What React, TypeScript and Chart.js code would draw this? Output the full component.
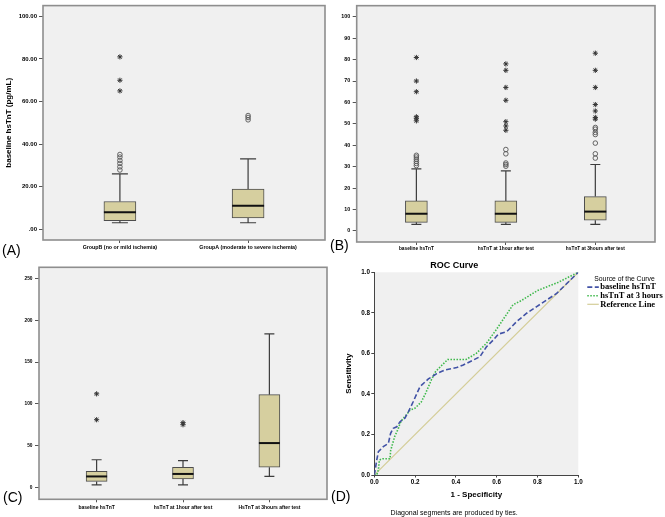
import React, { useEffect, useRef } from 'react';
import { Chart, registerables } from 'chart.js';
Chart.register(...registerables);

const SANS = 'Arial, "Liberation Sans", sans-serif';
const SERIF = '"Times New Roman", "Liberation Serif", serif';

// ---------- Panel A ----------
const catsA = ['GroupB (no or mild ischemia)', 'GroupA (moderate to severe ischemia)'];
const lowA = [3, 3];
const q1A = [4, 5.3];
const medA = [8, 11];
const q3A = [13, 18.8];
const highA = [26, 33];
const circlesA = [[27.8, 29.3, 30.9, 32.3, 33.9, 35.1], [51.4, 52.5, 53.4]];
const starsA = [[65, 70, 81], []];
const yTicksA = [0, 20, 40, 60, 80, 100];
const yLabelsA = ['.00', '20.00', '40.00', '60.00', '80.00', '100.00'];

// ---------- Panel B ----------
const catsB = ['baseline hsTnT', 'hsTnT at 1hour after test', 'hsTnT at 3hours after test'];
const lowB = [3, 3, 3];
const q1B = [4, 4, 5];
const medB = [8, 8, 9];
const q3B = [14, 14, 16];
const highB = [29, 28, 31];
const circlesB = [
  [30.5, 31.5, 32.5, 33.5, 34.5, 35.3],
  [30.2, 31, 31.7, 36, 38],
  [34, 36, 41, 45, 46, 47.5, 48.3],
];
const starsB = [
  [51.4, 52.6, 53.3, 65, 70, 81],
  [47, 49, 51, 61, 67, 75, 78],
  [52.2, 53, 56, 59, 67, 75, 83],
];
const yTicksB = [0, 10, 20, 30, 40, 50, 60, 70, 80, 90, 100];
const yLabelsB = ['0', '10', '20', '30', '40', '50', '60', '70', '80', '90', '100'];

// ---------- Panel C ----------
const catsC = ['baseline hsTnT', 'hsTnT at 1hour after test', 'HsTnT at 3hours after test'];
const lowC = [3, 3, 13];
const q1C = [7, 10, 24];
const medC = [13, 16, 53];
const q3C = [19, 24, 111];
const highC = [33, 32, 184];
const circlesC = [[], [], []];
const starsC = [[81, 112], [75, 77.5], []];
const yTicksC = [0, 50, 100, 150, 200, 250];
const yLabelsC = ['0', '50', '100', '150', '200', '250'];

// ---------- Panel D (ROC) ----------
const rocTicks = [0, 0.2, 0.4, 0.6, 0.8, 1];
const rocTickLabels = ['0.0', '0.2', '0.4', '0.6', '0.8', '1.0'];
const rocNames = ['baseline hsTnT', 'hsTnT at 3 hours', 'Reference Line'];
const baseFpr = [0, 0.003, 0.012, 0.02, 0.044, 0.069, 0.08, 0.093, 0.11, 0.126, 0.15, 0.167, 0.19, 0.224, 0.265, 0.306, 0.346, 0.404, 0.436, 0.485, 0.518, 0.55, 0.583, 0.608, 0.649, 0.698, 0.747, 0.796, 0.894, 1];
const baseTpr = [0, 0.016, 0.074, 0.115, 0.14, 0.156, 0.206, 0.23, 0.238, 0.263, 0.28, 0.312, 0.36, 0.436, 0.474, 0.5, 0.518, 0.53, 0.543, 0.567, 0.584, 0.633, 0.666, 0.695, 0.707, 0.757, 0.798, 0.831, 0.896, 1];
const h3Fpr = [0, 0.012, 0.02, 0.025, 0.04, 0.077, 0.08, 0.1, 0.118, 0.126, 0.142, 0.16, 0.175, 0.2, 0.23, 0.25, 0.28, 0.3, 0.33, 0.36, 0.45, 0.5, 0.55, 0.6, 0.64, 0.68, 0.72, 0.8, 0.9, 1];
const h3Tpr = [0, 0, 0.025, 0.074, 0.08, 0.08, 0.12, 0.19, 0.23, 0.255, 0.28, 0.3, 0.32, 0.33, 0.36, 0.4, 0.47, 0.51, 0.54, 0.57, 0.57, 0.6, 0.65, 0.72, 0.78, 0.84, 0.86, 0.91, 0.95, 1];
const refFpr = [0, 1];
const refTpr = [0, 1];

const BOX_FILL = '#d6cf9f';
const PLOT_BG = '#f0f0f0';

const plotBgPlugin = (frame: string | null, fw: number) => ({
  id: 'plotBg',
  beforeDraw(chart: any) {
    const { ctx, chartArea: a } = chart;
    ctx.save();
    ctx.fillStyle = PLOT_BG;
    ctx.fillRect(a.left, a.top, a.width, a.height);
    ctx.restore();
  },
  afterDraw(chart: any) {
    if (!frame) return;
    const { ctx, chartArea: a } = chart;
    ctx.save();
    ctx.strokeStyle = frame;
    ctx.lineWidth = fw;
    ctx.strokeRect(a.left, a.top, a.width, a.height);
    ctx.restore();
  },
});

const whiskerPlugin = (low: number[], q1: number[], med: number[], q3: number[], high: number[], capHalf: number, boxHalf: number) => ({
  id: 'whiskers',
  beforeDatasetsDraw(chart: any) {
    const { ctx, scales } = chart;
    const x = scales.x, y = scales.y;
    ctx.save();
    ctx.strokeStyle = '#3c3c3c';
    ctx.lineWidth = 1.2;
    low.forEach((lo, i) => {
      const px = x.getPixelForValue(i);
      const yl = y.getPixelForValue(lo);
      const yh = y.getPixelForValue(high[i]);
      ctx.beginPath();
      ctx.moveTo(px, yl); ctx.lineTo(px, y.getPixelForValue(q1[i]));
      ctx.moveTo(px, y.getPixelForValue(q3[i])); ctx.lineTo(px, yh);
      ctx.moveTo(px - capHalf, yl); ctx.lineTo(px + capHalf, yl);
      ctx.moveTo(px - capHalf, yh); ctx.lineTo(px + capHalf, yh);
      ctx.stroke();
    });
    ctx.restore();
  },
  afterDatasetsDraw(chart: any) {
    const { ctx, scales } = chart;
    const x = scales.x, y = scales.y;
    ctx.save();
    ctx.strokeStyle = '#111';
    ctx.lineWidth = 2;
    med.forEach((m, i) => {
      const px = x.getPixelForValue(i);
      const py = y.getPixelForValue(m);
      ctx.beginPath();
      ctx.moveTo(px - boxHalf, py); ctx.lineTo(px + boxHalf, py);
      ctx.stroke();
    });
    ctx.restore();
  },
});

function boxConfig(s: any) {
  const pts = (arr: number[][]) => arr.flatMap((vals, i) => vals.map((v) => ({ x: i, y: v })));
  return {
    type: 'bar',
    data: {
      datasets: [
        {
          type: 'bar',
          data: s.q1.map((q: number, i: number) => ({ x: i, y: [q, s.q3[i]] })),
          backgroundColor: BOX_FILL,
          borderColor: '#4d4d4d',
          borderWidth: 1,
          borderSkipped: false,
          barThickness: s.boxW,
        },
        {
          type: 'scatter',
          data: pts(s.circles),
          pointStyle: 'circle',
          radius: 2.3,
          borderColor: '#555',
          backgroundColor: 'rgba(255,255,255,0)',
          borderWidth: 0.9,
        },
        {
          type: 'scatter',
          data: pts(s.stars),
          pointStyle: 'star',
          radius: 2.6,
          borderColor: '#333',
          backgroundColor: '#333',
          borderWidth: 1,
        },
      ],
    },
    options: {
      animation: false,
      responsive: false,
      events: [],
      layout: { padding: s.padding },
      scales: {
        x: {
          type: 'linear',
          min: s.xMin,
          max: s.xMax,
          offset: false,
          afterBuildTicks: (sc: any) => { sc.ticks = s.cats.map((_: string, i: number) => ({ value: i })); },
          afterFit: (sc: any) => { sc.height = s.xHeight; },
          ticks: {
            callback: (v: number) => s.cats[v],
            font: { family: SANS, size: s.xFont, weight: 'bold' },
            color: '#000',
            padding: s.xPad,
            maxRotation: 0,
            minRotation: 0,
            autoSkip: false,
          },
          grid: { drawOnChartArea: false, offset: false, tickLength: 3, color: '#555', tickWidth: 1 },
          border: { display: false },
        },
        y: {
          type: 'linear',
          min: s.yMin,
          max: s.yMax,
          afterBuildTicks: (sc: any) => { sc.ticks = s.yTicks.map((v: number) => ({ value: v })); },
          afterFit: (sc: any) => { sc.width = s.yWidth; },
          ticks: {
            callback: (_v: number, i: number) => s.yLabels[i],
            font: { family: SANS, size: s.yFont, weight: 'bold' },
            color: '#000',
            padding: s.yPad,
          },
          title: s.yTitle
            ? { display: true, text: s.yTitle, font: { family: SANS, size: 8, weight: 'bold' }, color: '#000', padding: { top: 3.7, bottom: 0 } }
            : { display: false },
          grid: { drawOnChartArea: false, tickLength: 4, color: '#555', tickWidth: 1 },
          border: { display: false },
        },
      },
      plugins: { legend: { display: false }, tooltip: { enabled: false } },
    },
    plugins: [plotBgPlugin('#8e8e8e', 1.6), whiskerPlugin(s.low, s.q1, s.med, s.q3, s.high, s.capHalf, s.boxW / 2)],
  };
}

const rocLegendPlugin = {
  id: 'rocLegend',
  afterDraw(chart: any) {
    const { ctx, chartArea: a } = chart;
    const x0 = a.right;
    ctx.save();
    ctx.fillStyle = '#000';
    ctx.textBaseline = 'middle';
    ctx.textAlign = 'left';
    ctx.font = `6.8px ${SANS}`;
    ctx.fillText('Source of the Curve', x0 + 16, a.top + 7);
    chart.data.datasets.forEach((ds: any, i: number) => {
      const yy = a.top + 14.8 + i * 8.6;
      ctx.save();
      ctx.strokeStyle = ds.borderColor;
      ctx.lineWidth = ds.borderWidth;
      ctx.setLineDash(ds.borderDash || []);
      ctx.beginPath();
      ctx.moveTo(x0 + 9, yy);
      ctx.lineTo(x0 + 20.5, yy);
      ctx.stroke();
      ctx.restore();
      ctx.font = `bold 8.5px ${SERIF}`;
      ctx.fillText(ds.label, x0 + 22, yy);
    });
    ctx.restore();
  },
};

function rocConfig() {
  const toPts = (xs: number[], ys: number[]) => xs.map((x, i) => ({ x, y: ys[i] }));
  const axisTicks = {
    callback: (_v: number, i: number) => rocTickLabels[i],
    font: { family: SANS, size: 6.3, weight: 'bold' },
    color: '#000',
  };
  return {
    type: 'scatter',
    data: {
      datasets: [
        { label: rocNames[0], data: toPts(baseFpr, baseTpr), showLine: true, borderColor: '#4152a6', borderDash: [5, 2.5], borderWidth: 1.6, pointRadius: 0, tension: 0 },
        { label: rocNames[1], data: toPts(h3Fpr, h3Tpr), showLine: true, borderColor: '#3fb94c', borderDash: [1.5, 1.5], borderWidth: 1.6, pointRadius: 0, tension: 0 },
        { label: rocNames[2], data: toPts(refFpr, refTpr), showLine: true, borderColor: '#d4cd98', borderWidth: 1.2, pointRadius: 0, tension: 0 },
      ],
    },
    options: {
      animation: false,
      responsive: false,
      events: [],
      layout: { padding: { left: 0, top: 0, right: 86.7, bottom: 0 } },
      scales: {
        x: {
          type: 'linear', min: 0, max: 1,
          afterBuildTicks: (sc: any) => { sc.ticks = rocTicks.map((v) => ({ value: v })); },
          afterFit: (sc: any) => { sc.height = 33.6; },
          ticks: { ...axisTicks, padding: 1, maxRotation: 0 },
          title: { display: true, text: '1 - Specificity', font: { family: SANS, size: 8, weight: 'bold' }, color: '#000', padding: { top: 0, bottom: 8.8 } },
          grid: { drawOnChartArea: false, tickLength: 2.5, color: '#444' },
          border: { display: true, color: '#444', width: 1 },
        },
        y: {
          type: 'linear', min: 0, max: 1,
          afterBuildTicks: (sc: any) => { sc.ticks = rocTicks.map((v) => ({ value: v })); },
          afterFit: (sc: any) => { sc.width = 44.3; },
          ticks: { ...axisTicks, padding: 1.3 },
          title: { display: true, text: 'Sensitivity', font: { family: SANS, size: 8, weight: 'bold' }, color: '#000', padding: { top: 13.5, bottom: 0 } },
          grid: { drawOnChartArea: false, tickLength: 3, color: '#444' },
          border: { display: true, color: '#444', width: 1 },
        },
      },
      plugins: {
        legend: { display: false },
        tooltip: { enabled: false },
        title: { display: true, text: 'ROC Curve', font: { family: SANS, size: 9, weight: 'bold' }, color: '#000', padding: { top: 2, bottom: 1.5 } },
        subtitle: { display: true, position: 'bottom', text: 'Diagonal segments are produced by ties.', font: { family: SANS, size: 7 }, color: '#000', padding: { top: 0, bottom: 0 } },
      },
    },
    plugins: [plotBgPlugin(null, 0), rocLegendPlugin],
  };
}

function ChartCanvas({ left, top, width, height, make }: any) {
  const ref = useRef<HTMLCanvasElement>(null);
  useEffect(() => {
    const chart = new Chart(ref.current as HTMLCanvasElement, make());
    return () => chart.destroy();
  }, []);
  return <canvas ref={ref} width={width} height={height} style={{ position: 'absolute', left, top, width, height }} />;
}

const labelStyle = (left: number, top: number): React.CSSProperties => ({
  position: 'absolute', left, top, font: `14px ${SANS}`, lineHeight: '16px', color: '#000',
});

export default function App() {
  const specA = {
    cats: catsA, low: lowA, q1: q1A, med: medA, q3: q3A, high: highA, circles: circlesA, stars: starsA,
    yTicks: yTicksA, yLabels: yLabelsA, yMin: -5.1, yMax: 105.1, xMin: -0.6, xMax: 1.6,
    boxW: 32, capHalf: 8, padding: { left: 0, top: 3, right: 5, bottom: 0 }, yWidth: 43, xHeight: 18,
    yFont: 6, xFont: 5.3, yPad: 2, xPad: 1.7, yTitle: 'baseline hsTnT (pg/mL)',
  };
  const specB = {
    cats: catsB, low: lowB, q1: q1B, med: medB, q3: q3B, high: highB, circles: circlesB, stars: starsB,
    yTicks: yTicksB, yLabels: yLabelsB, yMin: -5.2, yMax: 105.2, xMin: -0.667, xMax: 2.667,
    boxW: 22, capHalf: 5, padding: { left: 0, top: 4, right: 10, bottom: 0 }, yWidth: 26.7, xHeight: 16,
    yFont: 5.3, xFont: 4.8, yPad: 2.5, xPad: 0.8, yTitle: null,
  };
  const specC = {
    cats: catsC, low: lowC, q1: q1C, med: medC, q3: q3C, high: highC, circles: circlesC, stars: starsC,
    yTicks: yTicksC, yLabels: yLabelsC, yMin: -14.4, yMax: 263.7, xMin: -0.667, xMax: 2.667,
    boxW: 21, capHalf: 5, padding: { left: 0, top: 9.3, right: 2, bottom: 0 }, yWidth: 39, xHeight: 17.7,
    yFont: 4.8, xFont: 5, yPad: 2.5, xPad: 2, yTitle: null,
  };
  return (
    <div style={{ position: 'absolute', left: 0, top: 0, width: 665, height: 517, background: '#fff', overflow: 'hidden' }}>
      <ChartCanvas left={0} top={0} width={330} height={258} make={() => boxConfig(specA)} />
      <ChartCanvas left={330} top={0} width={335} height={258} make={() => boxConfig(specB)} />
      <ChartCanvas left={0} top={258} width={332} height={259} make={() => boxConfig(specC)} />
      <ChartCanvas left={330} top={258} width={335} height={259} make={rocConfig} />
      <div style={labelStyle(2, 242)}>(A)</div>
      <div style={labelStyle(330, 237)}>(B)</div>
      <div style={labelStyle(3, 488.5)}>(C)</div>
      <div style={labelStyle(331, 487.5)}>(D)</div>
    </div>
  );
}
